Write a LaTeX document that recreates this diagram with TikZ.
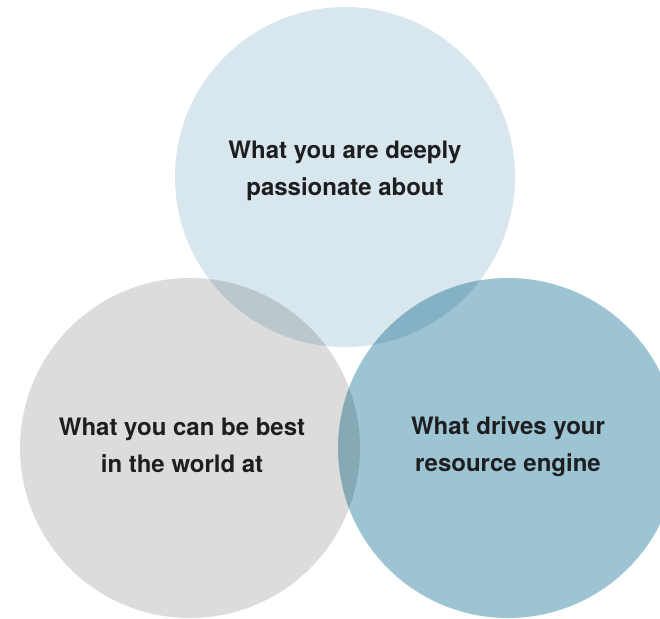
\documentclass[tikz,border=0pt]{standalone}
\usepackage{fontspec}
\setmainfont{TeX Gyre Heros}
\definecolor{passionblue}{HTML}{D8E7EE}
\definecolor{bestgray}{HTML}{DCDCDC}
\definecolor{enginecyan}{HTML}{9CC4D3}
\definecolor{labeltext}{HTML}{1E1E20}
\tikzset{
  ring/.style={circle, minimum size=340pt, inner sep=0pt, text=labeltext,
    font=\fontsize{24}{37}\selectfont\bfseries, align=center},
}
\begin{document}
\begin{tikzpicture}[x=1pt,y=-1pt]
  \useasboundingbox (0,0) rectangle (660,618);
  \clip (0,0) rectangle (660,618);
  %% the three circles, overlaps darkened by multiply
  \begin{scope}[blend group=multiply]
    \node[ring, fill=passionblue] (passion) at (345,177) {};
    \node[ring, fill=bestgray] (best) at (190,448) {};
    \node[ring, fill=enginecyan] (engine) at (508,448) {};
  \end{scope}
  %% labels
  \node[ring, minimum size=0pt] (passiontext) at ([yshift=6pt]passion.center) {What you are deeply\\passionate about};
  \node[ring, minimum size=0pt] (besttext) at ([xshift=-8pt,yshift=3pt]best.center) {What you can be best\\in the world at};
  \node[ring, minimum size=0pt] (enginetext) at ([yshift=1pt]engine.center) {What drives your\\resource engine};
\end{tikzpicture}
\end{document}
